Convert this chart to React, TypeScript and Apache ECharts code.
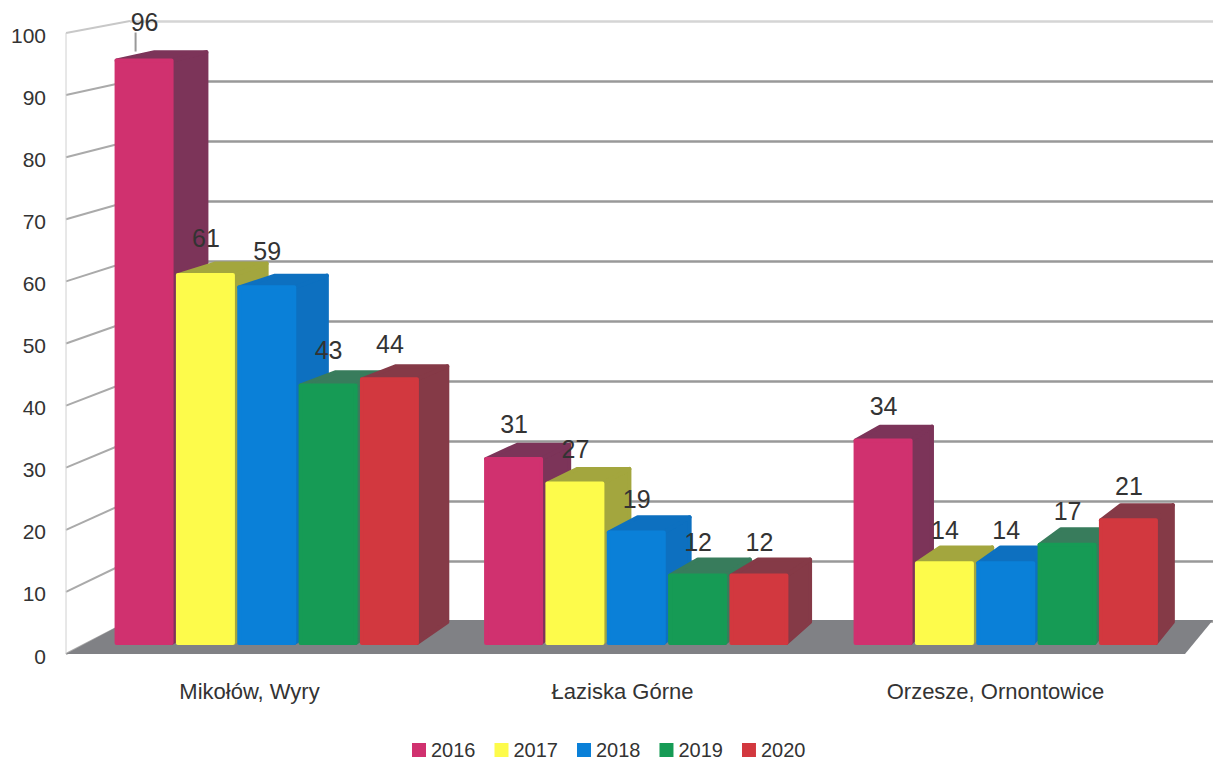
import React, { useEffect, useRef } from "react";
import * as echarts from "echarts";

const categories = ["Mikołów, Wyry", "Łaziska Górne", "Orzesze, Ornontowice"];
const years = ["2016", "2017", "2018", "2019", "2020"];
const values2016 = [96, 31, 34];
const values2017 = [61, 27, 14];
const values2018 = [59, 19, 14];
const values2019 = [43, 12, 17];
const values2020 = [44, 12, 21];
const allValues = [values2016, values2017, values2018, values2019, values2020];
const frontColors = ["#d0316f", "#fdfb4b", "#0a80d8", "#169b55", "#d2383f"];
const depthColors = ["#7c3459", "#a3a63e", "#0d70c0", "#387c5c", "#853a47"];
const yTicks = [0, 10, 20, 30, 40, 50, 60, 70, 80, 90, 100];
const wallLineColors = ["#999", "#999", "#999", "#999", "#999", "#999", "#999", "#999", "#999", "#999", "#d5d5d5"];

const FONT = '"Liberation Sans", Arial, sans-serif';
const INK = "#333333";
const LABEL_DROP = 2;
const depthX = (x: number) => 38 - 0.0182 * x;

function barItem(seriesIndex: number) {
  return (_p: any, api: any) => {
    const cat = api.value(0);
    const v = api.value(1);
    const band = api.size([1, 0])[0];
    const pitch = band * 0.166;
    const c = api.coord([cat, v]);
    const base = api.coord([cat, 0])[1];
    const x0 = c[0] + (seriesIndex - 2) * pitch - 30.5;
    const x1 = x0 + 59;
    const yf = c[1];
    const yb = yf - 17 + v * 0.09;
    const dx0 = depthX(x0) + 2;
    const dx1 = depthX(x1);
    const yBottom = base - 2;
    const front = frontColors[seriesIndex];
    const depth = depthColors[seriesIndex];
    const poly = (points: number[][], color: string) => ({
      type: "polygon",
      shape: { points },
      style: { fill: color, stroke: color, lineWidth: 4, lineJoin: "round" },
    });
    return {
      type: "group",
      children: [
        poly([[x1 - 2, yf + 2], [x1 + dx1 - 2, yb + 2], [x1 + dx1 - 2, base - 25], [x1 - 2, yBottom - 2]], depth),
        poly([[x0 + 2, yf + 2], [x1 - 2, yf + 2], [x1 + dx1 - 2, yb + 2], [x0 + dx0 + 2, yb + 2]], depth),
        poly([[x0 + 2, yf + 2], [x1 - 2, yf + 2], [x1 - 2, yBottom - 2], [x0 + 2, yBottom - 2]], front),
      ],
    };
  };
}

function labelItem(_p: any, api: any) {
  const cat = api.value(0);
  const v = api.value(1);
  const s = api.value(2);
  const band = api.size([1, 0])[0];
  const c = api.coord([cat, v]);
  const x = c[0] + (s - 2) * band * 0.166 - 0.5;
  const tall = v > 90;
  const y = c[1] - (tall ? 37 : 30.5 + 0.07 * v);
  const children: any[] = [];
  if (tall) {
    children.push({
      type: "line",
      shape: { x1: x - 9, y1: y + 11, x2: x - 9, y2: c[1] - 7 },
      style: { stroke: "#999", lineWidth: 2 },
    });
  }
  children.push({
    type: "text",
    x,
    y,
    style: { text: String(v), fill: INK, font: `25px ${FONT}`, align: "center", verticalAlign: "middle" },
  });
  return { type: "group", children };
}

function slantItem(params: any, api: any) {
  const v = api.value(0);
  const p = api.coord([0, v]);
  const x0 = params.coordSys.x;
  const yBack = 621 - v * 6;
  return {
    type: "line",
    shape: { x1: x0, y1: p[1] - LABEL_DROP, x2: x0 + 64, y2: yBack },
    style: { stroke: v === 100 ? "#c8c8c8" : "#aaaaaa", lineWidth: 2 },
  };
}

function floorItem(params: any) {
  const { x, y, width, height } = params.coordSys;
  const b = y + height - LABEL_DROP;
  return {
    type: "group",
    children: [
      {
        type: "line",
        shape: { x1: x, y1: y - LABEL_DROP, x2: x, y2: b },
        style: { stroke: "#d0d0d0", lineWidth: 1 },
      },
      {
        type: "polygon",
        shape: { points: [[x, b], [x + width, b], [1213, 620], [x + 64, 620]] },
        style: { fill: "#808185" },
      },
    ],
  };
}

export default function App() {
  const ref = useRef<HTMLDivElement>(null);
  useEffect(() => {
    document.body.style.margin = "0";
    document.body.style.overflow = "hidden";
    const chart = echarts.init(ref.current!, undefined, { renderer: "svg" });
    const hiddenX = { type: "category", data: categories, show: false };
    const hiddenY = { type: "value", min: 0, max: 100, interval: 10, show: false };
    chart.setOption({
      animation: false,
      backgroundColor: "#ffffff",
      legend: {
        data: years,
        left: 407,
        top: 735,
        icon: "rect",
        itemWidth: 14,
        itemHeight: 14,
        itemGap: 19,
        textStyle: { color: INK, fontFamily: FONT, fontSize: 20 },
      },
      grid: [
        { left: 66, top: 33 + LABEL_DROP, width: 1119, height: 621 },
        { left: 83, top: 34, width: 1108.5, height: 613 },
        { left: 130, top: 21, width: 1083, height: 600 },
      ],
      xAxis: [
        {
          type: "category",
          data: categories,
          gridIndex: 0,
          axisLine: { show: false },
          axisTick: { show: false },
          axisLabel: { color: INK, fontFamily: FONT, fontSize: 22, margin: 24, padding: [0, 6, 0, 0] },
        },
        { ...hiddenX, gridIndex: 1 },
        { ...hiddenX, gridIndex: 2 },
      ],
      yAxis: [
        {
          type: "value",
          min: 0,
          max: 100,
          interval: 10,
          gridIndex: 0,
          axisLine: { show: false },
          axisTick: { show: false },
          splitLine: { show: false },
          axisLabel: { color: INK, fontFamily: FONT, fontSize: 21, margin: 20 },
        },
        { ...hiddenY, gridIndex: 1 },
        {
          type: "value",
          min: 0,
          max: 100,
          interval: 10,
          gridIndex: 2,
          axisLine: { show: false },
          axisTick: { show: false },
          axisLabel: { show: false },
          splitLine: { show: true, lineStyle: { color: wallLineColors, width: 2.6 } },
        },
      ],
      series: [
        {
          type: "custom",
          name: "slant",
          xAxisIndex: 0,
          yAxisIndex: 0,
          z: 1,
          data: yTicks.map((t) => [t]),
          encode: { y: 0 },
          renderItem: slantItem,
          silent: true,
        },
        {
          type: "custom",
          name: "floor",
          xAxisIndex: 0,
          yAxisIndex: 0,
          z: 2,
          data: [[0]],
          renderItem: floorItem,
          silent: true,
        },
        ...years.map((name, i) => ({
          type: "custom",
          name,
          xAxisIndex: 1,
          yAxisIndex: 1,
          z: 3 + i,
          itemStyle: { color: frontColors[i] },
          data: allValues[i].map((v, c) => [c, v]),
          encode: { x: 0, y: 1 },
          renderItem: barItem(i),
        })),
        {
          type: "custom",
          name: "labels",
          xAxisIndex: 1,
          yAxisIndex: 1,
          z: 20,
          data: allValues.flatMap((vals, s) => vals.map((v, c) => [c, v, s])),
          encode: { x: 0, y: 1 },
          renderItem: labelItem,
          silent: true,
        },
      ],
    });
    return () => chart.dispose();
  }, []);
  return <div ref={ref} style={{ position: "absolute", left: 0, top: 0, width: 1213, height: 762 }} />;
}
